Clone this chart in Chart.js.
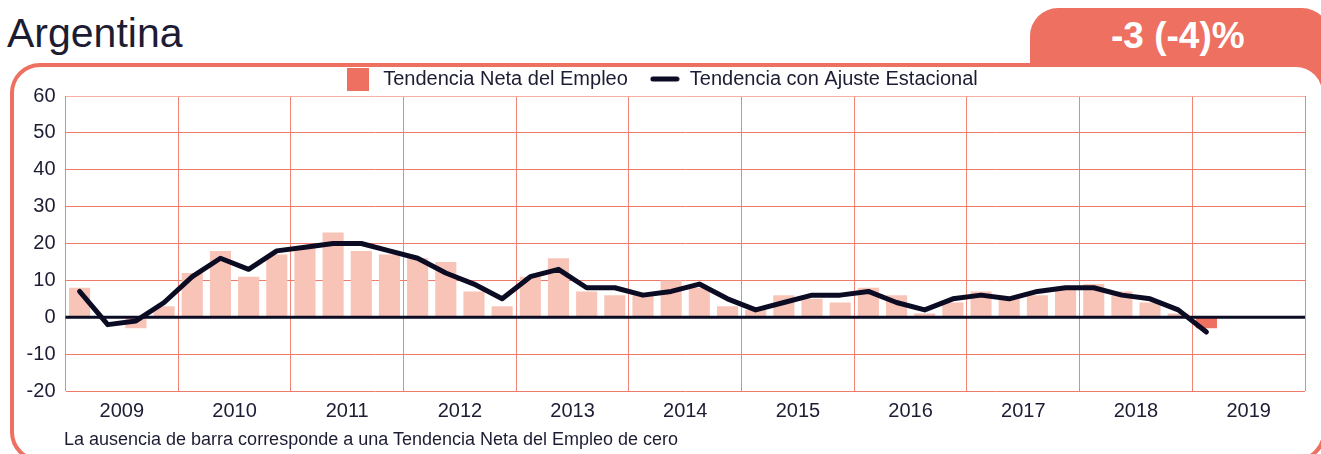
<!DOCTYPE html>
<html>
<head>
<meta charset="utf-8">
<script src="https://cdn.jsdelivr.net/npm/chart.js@4.4.1/dist/chart.umd.min.js"></script>
<style>
  body { margin: 0; background: #fff; width: 1321px; height: 454px; overflow: hidden; position: relative; font-family: "Liberation Sans", Arial, sans-serif; }
  #title { position: absolute; left: 7px; top: 9px; font-size: 41px; color: #1c1c33; line-height: 48px; }
  #tab { position: absolute; left: 1030px; top: 8px; width: 300px; height: 90px; background: #ee7060; border-radius: 28px; }
  #tabText { position: absolute; left: 1030px; top: 14px; width: 300px; text-indent: 81px; font-size: 37px; font-weight: bold; color: #fff; line-height: 44px; }
  #frame { position: absolute; left: 10px; top: 63px; width: 1316px; height: 399px; box-sizing: border-box; border: 4px solid #ee7060; border-radius: 30px; background: #fff; }
  #wrap { position: absolute; left: 0; top: 47px; width: 1321px; height: 386px; }
  #note { position: absolute; left: 64px; top: 429px; font-size: 18px; color: #1c1c33; }
</style>
</head>
<body>
<div id="title">Argentina</div>
<div id="tab"></div>
<div id="tabText">-3 (-4)%</div>
<div id="frame"></div>
<div id="wrap"><canvas id="empleo-chart"></canvas></div>
<div id="note">La ausencia de barra corresponde a una Tendencia Neta del Empleo de cero</div>
<script>
const years = ["2009", "2010", "2011", "2012", "2013", "2014", "2015", "2016", "2017", "2018", "2019"];
const quarterNames = ["T1", "T2", "T3", "T4"];
// Tendencia Neta del Empleo (barras), por trimestre
const netTrend = [
  8, 0, -3, 3,
  12, 18, 11, 17,
  19, 23, 18, 17,
  16, 15, 7, 3,
  11, 16, 7, 6,
  6, 10, 8, 3,
  2, 6, 5, 4,
  8, 6, 1, 4,
  7, 5, 6, 8,
  9, 7, 4, 1,
  -3, null, null, null
];
// Tendencia con Ajuste Estacional (linea)
const seasonalTrend = [
  7, -2, -1, 4,
  11, 16, 13, 18,
  19, 20, 20, 18,
  16, 12, 9, 5,
  11, 13, 8, 8,
  6, 7, 9, 5,
  2, 4, 6, 6,
  7, 4, 2, 5,
  6, 5, 7, 8,
  8, 6, 5, 2,
  -4, null, null, null
];
const yTicks = [-20, -10, 0, 10, 20, 30, 40, 50, 60];

const CORAL = "#ee7060";
const BAR_LIGHT = "#f9c4b8";
const NAVY = "#0b0b24";
const TEXT = "#1c1c33";

const quarterLabels = [];
years.forEach(y => quarterNames.forEach(q => quarterLabels.push(y + " " + q)));
let latest = 0;
netTrend.forEach((v, i) => { if (v !== null) latest = i; });

function marker(w, h, draw) {
  const c = document.createElement("canvas");
  c.width = w; c.height = h;
  draw(c.getContext("2d"));
  return c;
}
const barMarker = marker(22, 23, g => { g.fillStyle = CORAL; g.fillRect(0, 0, 22, 23); });
const lineMarker = marker(30, 8, g => {
  g.strokeStyle = NAVY; g.lineWidth = 5; g.lineCap = "round";
  g.beginPath(); g.moveTo(3, 4); g.lineTo(27, 4); g.stroke();
});

const zeroLine = {
  id: "zeroLine",
  afterInit(chart) {
    const fit = chart.legend.fit;
    chart.legend.fit = function () { fit.call(this); this.height -= 3; };
  },
  afterDatasetDraw(chart, args) {
    if (args.meta.type !== "bar") return;
    const { ctx, chartArea, scales } = chart;
    const y = scales.y.getPixelForValue(0);
    ctx.save();
    ctx.strokeStyle = NAVY;
    ctx.lineWidth = 3;
    ctx.beginPath();
    ctx.moveTo(chartArea.left, y);
    ctx.lineTo(chartArea.right, y);
    ctx.stroke();
    ctx.restore();
  }
};

const ctx = document.getElementById("empleo-chart");
new Chart(ctx, {
  type: "bar",
  data: {
    labels: quarterLabels,
    datasets: [{
      type: "bar",
      label: "Tendencia Neta del Empleo",
      data: netTrend,
      order: 2,
      xAxisID: "x",
      backgroundColor: c => c.dataIndex === latest ? CORAL : BAR_LIGHT,
      categoryPercentage: 1,
      barPercentage: 0.75
    }, {
      type: "line",
      label: "Tendencia con Ajuste Estacional",
      data: seasonalTrend,
      order: 1,
      xAxisID: "x",
      borderColor: NAVY,
      borderWidth: 5,
      borderCapStyle: "round",
      borderJoinStyle: "round",
      pointRadius: 0,
      tension: 0,
      fill: false
    }]
  },
  plugins: [zeroLine],
  options: {
    responsive: true,
    maintainAspectRatio: false,
    animation: false,
    layout: { padding: { left: 0, right: 0, top: 0, bottom: 2 } },
    plugins: {
      tooltip: { enabled: false },
      legend: {
        position: "top",
        labels: {
          usePointStyle: true,
          pointStyleWidth: 30,
          padding: 22,
          color: TEXT,
          font: { family: "Liberation Sans", size: 20 },
          generateLabels: chart => chart.data.datasets.map((ds, i) => ({
            text: ds.label,
            datasetIndex: i,
            pointStyle: i === 0 ? barMarker : lineMarker,
            fontColor: TEXT,
            hidden: false,
            lineWidth: 0
          }))
        }
      }
    },
    scales: {
      x: {
        type: "category",
        display: false,
        offset: true
      },
      years: {
        type: "category",
        position: "bottom",
        labels: years,
        offset: true,
        border: { display: false },
        grid: {
          offset: true,
          drawTicks: false,
          lineWidth: 1,
          color: c => c.index === years.length ? "#f7aea3" : "#f08577"
        },
        ticks: {
          padding: 8,
          color: TEXT,
          font: { family: "Liberation Sans", size: 20 }
        }
      },
      y: {
        min: -20,
        max: 60,
        afterBuildTicks: axis => { axis.ticks = yTicks.map(v => ({ value: v })); },
        afterFit: axis => { axis.width = 65.5; },
        border: { display: false },
        grid: {
          drawTicks: false,
          lineWidth: 1,
          color: c => c.tick.value === 60 ? "#f7aea3" : "#ef7a6a"
        },
        ticks: {
          padding: 10,
          color: TEXT,
          font: { family: "Liberation Sans", size: 20 }
        }
      },
      yRight: {
        position: "right",
        display: true,
        min: -20,
        max: 60,
        afterFit: axis => { axis.width = 16; },
        border: { display: false },
        grid: { display: false },
        ticks: { display: false }
      }
    }
  }
});
</script>
</body>
</html>
